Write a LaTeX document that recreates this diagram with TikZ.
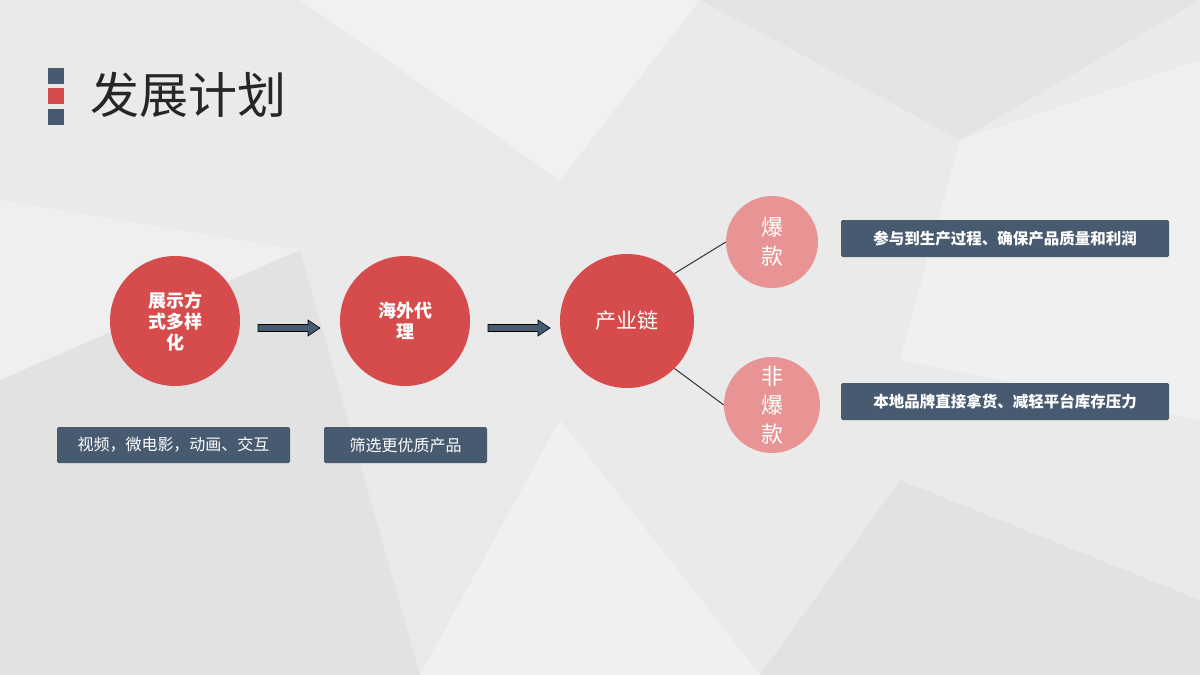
\documentclass[tikz,border=0pt]{standalone}
\usepackage{fontspec}
\usetikzlibrary{calc}
\newfontfamily\cjk{Noto Sans CJK SC}
\definecolor{bg}{HTML}{EBEAEB}
\definecolor{red1}{HTML}{D64B4B}
\definecolor{pink1}{HTML}{E89494}
\definecolor{slate}{HTML}{475A70}
\tikzset{
 big/.style={circle,fill=red1,minimum size=#1,inner sep=0pt,text=white,align=center,font=\cjk\bfseries\fontsize{18}{21}\selectfont},
 small/.style={circle,fill=pink1,minimum size=#1,inner sep=0pt,text=white,align=center,font=\cjk\fontsize{22}{29}\selectfont},
 tag/.style={fill=slate,text=white,rounded corners=1.5pt,inner sep=0pt,font=\cjk\fontsize{16}{18}\selectfont},
 btag/.style={tag,font=\cjk\bfseries\fontsize{15.5}{18}\selectfont},
 barrow/.style={draw=black,fill=slate,line width=0.6pt}
}
\begin{document}
\begin{tikzpicture}[x=1pt,y=-1pt]
\fill[bg] (0,0) rectangle (1200,675);
\useasboundingbox (0,0) rectangle (1200,675);
% background facets
\fill[white,opacity=0.35] (300,0) -- (560,180) -- (700,0) -- cycle;
\fill[white,opacity=0.3] (960,140) -- (1200,60) -- (1200,420) -- (900,360) -- cycle;
\fill[black,opacity=0.03] (0,380) -- (300,250) -- (420,675) -- (0,675) -- cycle;
\fill[white,opacity=0.3] (420,675) -- (560,420) -- (760,675) -- cycle;
\fill[black,opacity=0.03] (760,675) -- (900,480) -- (1200,600) -- (1200,675) -- cycle;
\fill[white,opacity=0.25] (0,200) -- (300,250) -- (0,380) -- cycle;
\fill[black,opacity=0.025] (700,0) -- (960,140) -- (1200,0) -- cycle;
% title
\fill[slate] (48,68) rectangle (64,84);
\fill[red1] (48,88) rectangle (64,104);
\fill[slate] (48,109) rectangle (64,125);
\node[anchor=west,inner sep=0pt,font=\cjk\fontsize{49}{52}\selectfont,text=black!85] (title) at (90,95) {发展计划};
% circles
\node[big=130pt] (c1) at (175,321) {展示方\\式多样\\化};
\node[big=130pt] (c2) at (405,321) {海外代\\理};
\node[big=134pt,font=\cjk\fontsize{21}{24}\selectfont] (c3) at (627,321) {产业链};
\node[small=92pt] (p1) at (772,242) {爆\\款};
\node[small=96pt] (p2) at (772,405) {非\\爆\\款};
% tags
\node[tag,minimum width=233pt,minimum height=36pt] (t1) at (173.5,445) {视频，微电影，动画、交互};
\node[tag,minimum width=163pt,minimum height=36pt] (t2) at (405.5,445) {筛选更优质产品};
\node[btag,minimum width=328pt,minimum height=37pt] (t3) at (1005,238.5) {参与到生产过程、确保产品质量和利润};
\node[btag,minimum width=328pt,minimum height=37pt] (t4) at (1005,401.5) {本地品牌直接拿货、减轻平台库存压力};
% connectors
\draw[line width=1pt,black!80] (c3.north east) -- (p1.west);
\draw[line width=1pt,black!80] (c3.south east) -- (p2.west);
% block arrows
\coordinate (s1) at (258,328); \coordinate (e1) at (320,328);
\coordinate (s2) at (488,328); \coordinate (e2) at (550,328);
\foreach \s/\e in {s1/e1,s2/e2}{
 \draw[barrow] ($(\s)+(0,-3.5)$) -- ($(\e)+(-12,-3.5)$) -- ($(\e)+(-12,-8)$) -- (\e) -- ($(\e)+(-12,8)$) -- ($(\e)+(-12,3.5)$) -- ($(\s)+(0,3.5)$) -- cycle;
}
\end{tikzpicture}
\end{document}
